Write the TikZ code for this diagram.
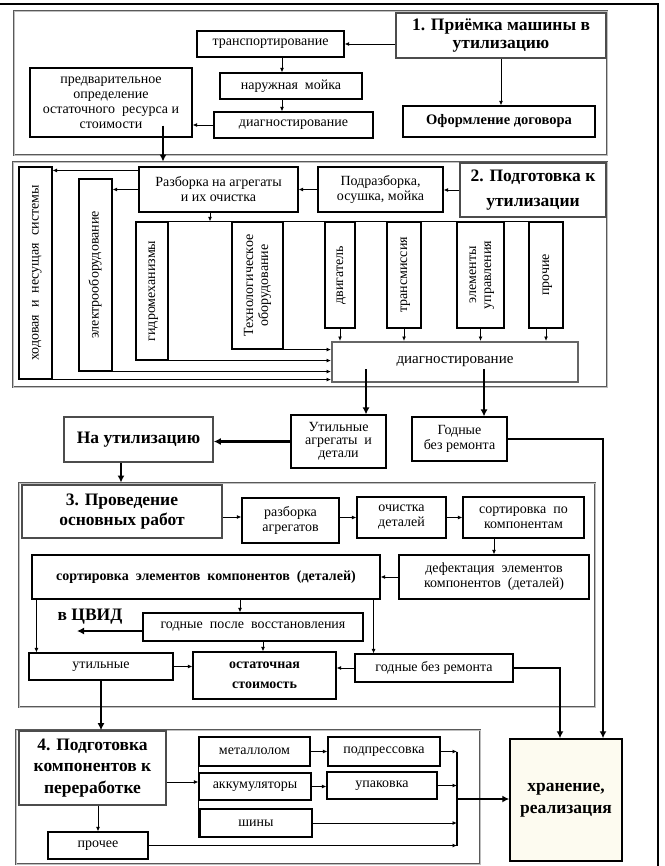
\documentclass[tikz,border=0pt]{standalone}
\usepackage{fontspec}
\setmainfont{Liberation Serif}
\usepackage{graphicx}
\usetikzlibrary{arrows.meta,calc,positioning}

\definecolor{hrfill}{RGB}{253,251,240}
\newcommand\boxfont{\fontsize{14}{15}\selectfont}
\newcommand\headfont[1]{\fontsize{17.5}{#1}\selectfont\bfseries}
\newcommand\vtext[1]{\rotatebox{90}{\begin{tabular}{@{}c@{}}#1\end{tabular}}}

\begin{document}
\begin{tikzpicture}[x=1pt,y=-1pt,
  box/.style={draw,line width=1.1pt,align=center,inner sep=1pt,font=\boxfont},
  head/.style={box,draw=black!70,line width=1.6pt,font={\headfont{21}}},
  frame/.style={draw=black!65,double=black!25,double distance=0.8pt,line width=0.9pt,inner sep=0pt},
  arr/.style={-{Latex[length=4.5pt,width=4pt]},line width=0.9pt},
  tarr/.style={-{Latex[length=7pt,width=7pt]},line width=2.6pt}]
\useasboundingbox (0,0) rectangle (664,866);
\draw[line width=2.5pt] (0,4) -- (658,4) -- (658,866);

% 1
\node[frame,minimum width=593,minimum height=144] (f1) at (310.5,83) {};
\node[head,minimum width=210,minimum height=45,font={\headfont{18}}] (t1) at (501,35.5) {1. Приёмка машины в\\утилизацию};
\node[box,minimum width=147,minimum height=26] (tr) at (270.5,44) {транспортирование};
\node[box,minimum width=142,minimum height=26] (moi) at (291,86) {наружная\ \ мойка};
\node[box,minimum width=159,minimum height=26] (dg1) at (293.5,125) {диагностирование};
\node[box,minimum width=162,minimum height=69] (pred) at (111,102.5) {предварительное\\определение\\остаточного\ \ ресурса и\\стоимости};
\node[box,minimum width=192,minimum height=31,font=\fontsize{14.5}{16}\selectfont\bfseries] (dog) at (499,121.5) {Оформление договора};

\draw[arr] (t1.west |- tr.east) -- (tr.east);
\draw[arr] ([xshift=11.5pt]tr.south) -- ([xshift=11.5pt]tr.south |- moi.north);
\draw[arr] ([xshift=-9pt]moi.south) -- ([xshift=-9pt]moi.south |- dg1.north);
\draw[arr] (dg1.west) -- (dg1.west -| pred.east);
\draw[arr] (t1.south) -- (t1.south |- dog.north);

% 2
\node[frame,minimum width=594,minimum height=225] (f2) at (310,274.5) {};
\node[head,minimum width=146,minimum height=54,font={\headfont{25}}] (t2) at (533,190) {2. Подготовка к\\утилизации};
\node[box,minimum width=125,minimum height=45] (podr) at (380.5,189.5) {Подразборка,\\осушка, мойка};
\node[box,minimum width=159,minimum height=45] (razb) at (218.5,189.5) {Разборка на агрегаты\\и их очистка};
\node[box,minimum width=33,minimum height=212] (hod) at (35.5,273) {\vtext{ходовая\ \ и\ \ несущая\ \ системы}};
\node[box,minimum width=33,minimum height=192] (el) at (95.5,275) {\vtext{электрооборудование}};
\node[box,minimum width=32,minimum height=138] (gid) at (152,291) {\vtext{гидромеханизмы}};
\node[box,minimum width=51,minimum height=127] (teh) at (257.5,285.5) {\vtext{Технологическое\\оборудование}};
\node[box,minimum width=30,minimum height=106] (dv) at (340,275) {\vtext{двигатель}};
\node[box,minimum width=34,minimum height=106] (trm) at (404,275) {\vtext{трансмиссия}};
\node[box,minimum width=47,minimum height=106] (elu) at (480.5,275) {\vtext{элементы\\управления}};
\node[box,minimum width=34,minimum height=106] (pro) at (546,275) {\vtext{прочие}};
\node[box,draw=black!60,line width=2pt,minimum width=246,minimum height=40,font=\fontsize{15}{17}\selectfont] (dg2) at (455,362) {диагностирование};

\draw[tarr] ([xshift=52pt,yshift=12pt]pred.south) -- ([xshift=52pt]pred.south |- f2.north);
\draw[line width=1.1pt] (gid.north west) -- (pro.north east);
\draw[arr] (t2.west) -- (t2.west -| podr.east);
\draw[arr] (podr.west) -- (razb.east);
\draw[arr] ([yshift=-4pt]razb.north west) -- ([yshift=-4pt]razb.north west -| hod.east);
\draw[arr] (razb.west) -- (razb.west -| el.east);
\draw[arr] ([xshift=-8.5pt]razb.south) -- ([xshift=-8.5pt]razb.south |- gid.north);
\foreach \n in {dv,trm,elu,pro}
  \draw[arr] (\n.south) -- (\n.south |- dg2.north);
\foreach \n in {hod,el,gid,teh}
  \draw[arr] (\n.south west) -- (\n.south west -| dg2.west);

% between 2 and 3
\node[head,minimum width=149,minimum height=45] (nau) at (138.5,439.5) {На утилизацию};
\node[box,minimum width=95,minimum height=53,font=\fontsize{14}{13}\selectfont] (ut) at (338.5,441.5) {Утильные\\агрегаты\ \ и\\детали};
\node[box,minimum width=95,minimum height=44] (god) at (459.5,439) {Годные\\без ремонта};
\draw[tarr] ([xshift=-89pt,yshift=-7pt]dg2.center) -- ([xshift=-89pt]dg2.center |- ut.north);
\draw[tarr] ([xshift=29pt,yshift=-7pt]dg2.center) -- ([xshift=29pt]dg2.center |- god.north);
\draw[tarr] (ut.west) -- (ut.west -| nau.east);

% 3
\node[frame,minimum width=576,minimum height=224] (f3) at (307,595) {};
\node[head,minimum width=200,minimum height=53,font={\headfont{20}}] (t3) at (122,511.5) {3. Проведение\\основных работ};
\node[box,minimum width=97,minimum height=45] (raz) at (290.5,520.5) {разборка\\агрегатов};
\node[box,minimum width=89,minimum height=41] (och) at (401.5,517.5) {очистка\\деталей};
\node[box,minimum width=121,minimum height=41] (sortk) at (523.5,517.5) {сортировка\ \ по\\компонентам};
\node[box,minimum width=190,minimum height=44] (def) at (494,577) {дефектация\ \ элементов\\компонентов\ \ (деталей)};
\node[box,minimum width=348,minimum height=44,font=\fontsize{14}{16}\selectfont\bfseries] (sorte) at (206,577) {сортировка\ \ элементов\ \ компонентов\ \ (деталей)};
\node[box,minimum width=220,minimum height=28] (gpv) at (253,627) {годные\ \ после\ \ восстановления};
\node[font={\headfont{21}}] (cvid) at (90,617) {в ЦВИД};
\coordinate (cvend) at (77,631);
\node[box,minimum width=144,minimum height=27] (util) at (101,666.5) {утильные};
\node[box,minimum width=143,minimum height=47,font=\fontsize{14}{20}\selectfont\bfseries] (ost) at (264.5,675.5) {остаточная\\стоимость};
\node[box,minimum width=158,minimum height=28] (gbr) at (434,668) {годные\ без\ ремонта};

\draw[tarr] ([xshift=-17.5pt]nau.south) -- ([xshift=-17.5pt]nau.south |- f3.north);
\draw[arr] ([yshift=-5.5pt]t3.east) -- ([yshift=-5.5pt]t3.east -| raz.west);
\draw[arr] (och.west -| raz.east) -- (och.west);
\draw[arr] (och.east) -- (sortk.west);
\draw[arr] (def.north |- sortk.south) -- (def.north);
\draw[arr] (def.west) -- (sorte.east);
\draw[arr] ([xshift=5pt]sorte.south west) -- ([xshift=5pt]sorte.south west |- util.north);
\draw[arr] ([xshift=34pt]sorte.south) -- ([xshift=34pt]sorte.south |- gpv.north);
\draw[arr] ([xshift=-7pt]sorte.south east) -- ([xshift=-7pt]sorte.south east |- gbr.north);
\draw[tarr] ([yshift=-4pt]gpv.west) -- ([yshift=-4pt]gpv.west -| cvend);
\draw[arr] ([xshift=10pt]gpv.south) -- ([xshift=10pt]gpv.south |- ost.north);
\draw[arr] (util.east) -- (util.east -| ost.west);
\draw[arr] (gbr.west) -- (gbr.west -| ost.east);

% 4
\node[frame,minimum width=464,minimum height=134] (f4) at (248,797) {};
\node[head,minimum width=147,minimum height=74,font={\headfont{21.5}}] (t4) at (92.5,768) {4. Подготовка\\компонентов к\\переработке};
\node[box,minimum width=111,minimum height=29] (met) at (254.5,751.5) {металлолом};
\node[box,minimum width=112,minimum height=29] (podp) at (384,751.5) {подпрессовка};
\node[box,minimum width=112,minimum height=27] (akk) at (255,786.5) {аккумуляторы};
\node[box,minimum width=110,minimum height=27] (upak) at (382,785.5) {упаковка};
\node[box,minimum width=112,minimum height=28] (shin) at (256,823) {шины};
\node[box,minimum width=100,minimum height=27] (proch) at (98,845.5) {прочее};
\node[box,line width=1.5pt,fill=hrfill,minimum width=112,minimum height=122,font={\headfont{22}}] (hr) at (566,800) {хранение,\\реализация};
\coordinate (col) at (457,799);

\draw[tarr] (util.south) -- (util.south |- t4.north);
\draw[arr] ([yshift=-14pt]t4.east) -- ([yshift=-14pt]t4.east -| akk.west);
\draw[arr] (met.east) -- (podp.west);
\draw[arr] (akk.east) -- (akk.east -| upak.west);
\draw[arr] (proch.north |- t4.south) -- (proch.north);
\draw[line width=1.1pt] (met.south west) -- (met.south west |- shin.south);
\foreach \n in {podp,upak,shin,proch}
  \draw[arr] (\n.east) -- (\n.east -| col);
\draw[line width=2pt] (podp.east -| col) -- (proch.east -| col);
\draw[tarr] (col) -- (col -| hr.west);
\draw[tarr] (god.east) -| ([xshift=37pt]hr.north);
\draw[tarr] (gbr.east) -| ([xshift=-6pt]hr.north);
\end{tikzpicture}
\end{document}
